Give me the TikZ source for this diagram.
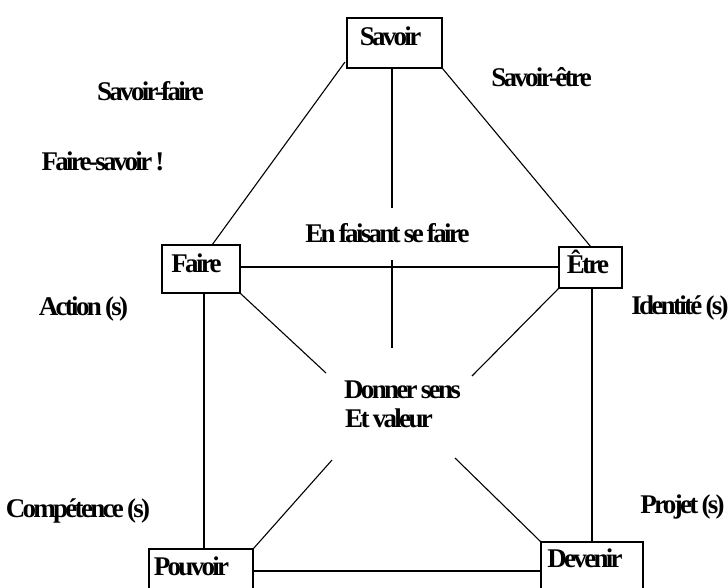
\documentclass[tikz,border=0pt]{standalone}
\usepackage{fontspec}
\newfontfamily\lblfont[LetterSpace=-10,WordSpace=0.8]{Liberation Serif}
\begin{document}
\begin{tikzpicture}[x=1pt,y=-1pt,
  lbl/.style={font=\lblfont\bfseries\fontsize{27}{32}\selectfont, inner sep=0pt, anchor=base},
  box/.style={draw, line width=1.1pt, inner sep=0pt},
  conn/.style={line width=1.1pt}]
\useasboundingbox (0,0) rectangle (728,587);
\clip (0,0) rectangle (728,587);
% boxes
\node[box, minimum width=95pt, minimum height=50pt] (savoir) at (394.5,43) {};
\node[box, minimum width=78pt, minimum height=48pt] (faire) at (201,269) {};
\node[box, minimum width=63pt, minimum height=41pt] (etre) at (590.5,267.5) {};
\node[box, minimum width=104pt, minimum height=60pt] (pouvoir) at (201,579) {};
\node[box, minimum width=102pt, minimum height=66pt] (devenir) at (592,575) {};
% box texts
\node[lbl] (tsavoir) at (390.5,45) {Savoir};
\node[lbl] (tfaire) at (196.5,272) {Faire};
\node[lbl] (tetre) at (588,273) {Être};
\node[lbl] (tpouvoir) at (191.5,575) {Pouvoir};
\node[lbl] (tdevenir) at (585,567) {Devenir};
% free labels
\node[lbl] (l1) at (150.5,100) {Savoir-faire};
\node[lbl] (l2) at (103,170) {Faire-savoir !};
\node[lbl] (l3) at (541.5,86) {Savoir-être};
\node[lbl] (l4) at (387.5,242) {En faisant se faire};
\node[lbl] (l5) at (83.5,315) {Action (s)};
\node[lbl] (l6) at (680,314) {Identité (s)};
\node[lbl] (l7) at (402.5,398) {Donner sens};
\node[lbl] (l8) at (389,427) {Et valeur};
\node[lbl] (l9) at (78,517) {Compétence (s)};
\node[lbl] (l10) at (682.5,513) {Projet (s)};
% connector end points
\coordinate (sA) at (345,62);
\coordinate (fA) at (212,245);
\coordinate (eA) at (591,247);
\coordinate (vTop) at (392,208);
\coordinate (vMidTop) at (392,260);
\coordinate (vMidBot) at (392,348);
\coordinate (cNW) at (326,373);
\coordinate (cNE) at (472,376);
\coordinate (cSW) at (332,460);
\coordinate (cSE) at (455,458);
% connectors
\draw[conn] (sA) -- (fA);
\draw[conn] (savoir.south east) -- (eA);
\draw[conn] (savoir.south) ++(-2.5,0) -- (vTop);
\draw[conn] (vMidTop) -- (vMidBot);
\draw[conn] (faire.east) ++(0,-2) -- (etre.west |- 0,267);
\draw[conn] (faire.south east) -- (cNW);
\draw[conn] (etre.south west) -- (cNE);
\draw[conn] (cSW) -- (pouvoir.north east);
\draw[conn] (cSE) -- (devenir.north west);
\draw[conn] (204,293) -- (204,549);
\draw[conn] (592,288) -- (592,542);
\draw[conn] (253,571) -- (541,571);
\end{tikzpicture}
\end{document}
